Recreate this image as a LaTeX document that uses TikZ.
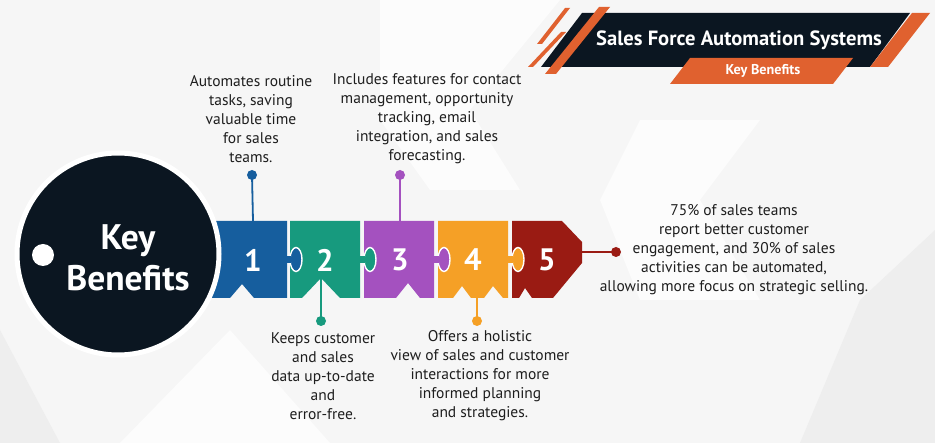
\documentclass[tikz,border=0pt]{standalone}
\usepackage{fontspec}
\setmainfont{PT Sans}
\definecolor{navy}{HTML}{0B1621}
\definecolor{pblue}{HTML}{165E9E}
\definecolor{pgreen}{HTML}{179A7E}
\definecolor{ppurple}{HTML}{A451BF}
\definecolor{porange}{HTML}{F5A026}
\definecolor{pred}{HTML}{9A1B13}
\definecolor{torange}{HTML}{E0612F}
\definecolor{txt}{HTML}{1E1E1E}
\definecolor{bgA}{HTML}{F6F6F6}
\definecolor{bgB}{HTML}{EEEEEE}
\definecolor{bgC}{HTML}{FCFCFC}
\tikzset{
  desc/.style={text=txt, align=center, inner sep=0pt, font=\fontsize{15.5}{19}\selectfont},
  numtxt/.style={text=white, inner sep=0pt, font=\fontsize{31}{31}\selectfont\bfseries},
  dotnode/.style={circle, fill=#1, minimum size=10pt, inner sep=0pt},
  conn/.style={draw=#1, line width=1.8pt},
  tab/.style={fill=#1, draw=white, line width=1.4pt},
}
\begin{document}
\begin{tikzpicture}[x=1pt,y=-1pt]
\useasboundingbox (0,0) rectangle (935,443);
% background
\fill[bgA] (0,0) rectangle (935,443);
\fill[bgC] (380,0) -- (560,0) -- (470,110) -- (520,190) -- (430,190) -- (380,120) -- cycle;
\fill[bgC] (640,120) -- (760,120) -- (700,200) -- (760,300) -- (640,300) -- (600,200) -- cycle;
\fill[bgB] (0,330) -- (60,443) -- (0,443) -- cycle;
\fill[bgB] (860,300) -- (935,230) -- (935,443) -- (800,443) -- cycle;
\fill[bgC] (120,443) -- (230,330) -- (330,443) -- cycle;

% ---------- title banner ----------
\fill[navy] (582,13) -- (910,13) -- (870,67) -- (541,67) -- cycle;
\fill[torange] (912,13) -- (930,13) -- (888,67) -- (870,67) -- cycle;
\fill[torange] (599,7) -- (610,7) -- (556,74) -- (545,74) -- cycle;
\fill[torange] (565,8) -- (570,8) -- (542,44) -- (537,44) -- cycle;
\fill[torange] (561,32) -- (566,32) -- (533,67) -- (528,67) -- cycle;
\fill[torange] (690,58) -- (853,58) -- (833,84) -- (670,84) -- cycle;
\node[text=white, font=\fontsize{20.6}{20.6}\selectfont\bfseries] (title) at (739,40) {Sales Force Automation Systems};
\node[text=white, font=\fontsize{14.2}{14.2}\selectfont\bfseries] (sub) at (763,71) {Key Benefits};

% ---------- puzzle pieces ----------
\fill[pblue] (205,221) -- (287,221) -- (287,298) -- (254,298) -- (242,284) -- (230,298) -- (205,298) -- cycle;
\fill[pgreen] (290,221) -- (360,221) -- (360,298) -- (340,298) -- (321,278) -- (302,298) -- (290,298) -- cycle;
\fill[ppurple] (364,221) -- (434,221) -- (434,298) -- (420,298) -- (408,283) -- (396,298) -- (364,298) -- cycle;
\fill[porange] (438,221) -- (508,221) -- (508,298) -- (503,298) -- (493,286) -- (484,298) -- (471,298) -- (462,286) -- (453,298) -- (438,298) -- cycle;
\fill[pred] (512,221) -- (562,221) -- (582,242) -- (582,263) -- (553,298) -- (532,298) -- (525,288) -- (519,298) -- (512,298) -- cycle;

% tabs
\foreach \R/\L/\c in {287/290/pblue, 360/364/pgreen, 434/438/ppurple, 508/512/porange}{
  \draw[tab=\c] (\L+6,259.5) ellipse [x radius=6, y radius=12];
  \fill[\c] (\R-1,256) rectangle (\L+1,263);
}

% circle
\draw[fill=navy, draw=white, line width=5pt] (118,254) circle [radius=101];
\fill[white] (43,255) circle [radius=11];
\node[text=white, align=center, font=\fontsize{35.5}{41}\selectfont\bfseries] (kb) at (128,258) {Key\\Benefits};

% numbers
\node[numtxt] (n1) at (253,260) {1};
\node[numtxt] (n2) at (325,260) {2};
\node[numtxt] (n3) at (400,260) {3};
\node[numtxt] (n4) at (473,260) {4};
\node[numtxt] (n5) at (547,260) {5};

% connector anchors
\coordinate (a1) at (253,221);
\coordinate (a2) at (321,278);
\coordinate (a3) at (400,221);
\coordinate (a4) at (477,298);
\coordinate (a5) at (582,252);

% dots
\node[dotnode=pblue] (d1) at (252,175) {};
\node[dotnode=pgreen] (d2) at (321,321) {};
\node[dotnode=ppurple] (d3) at (400,175) {};
\node[dotnode=porange] (d4) at (477,321) {};
\node[dotnode=pred] (d5) at (616,252) {};

\draw[conn=pblue] (a1) -- (d1.center);
\draw[conn=pgreen] (a2) -- (d2.center);
\draw[conn=ppurple] (a3) -- (d3.center);
\draw[conn=porange] (a4) -- (d4.center);
\draw[conn=pred] (a5) -- (d5.center);

% texts
\node[desc] (t1) at (251,119) {Automates routine\\tasks, saving\\valuable time\\for sales\\teams.};
\node[desc] (t3) at (427,119) {Includes features for contact\\management, opportunity\\tracking, email\\integration, and sales\\forecasting.};
\node[desc] (t2) at (323,376) {Keeps customer\\and sales\\data up-to-date\\and\\error-free.};
\node[desc] (t4) at (480,376) {Offers a holistic\\view of sales and customer\\interactions for more\\informed planning\\and strategies.};
\node[desc] (t5) at (734,250) {75\% of sales teams\\report better customer\\engagement, and 30\% of sales\\activities can be automated,\\allowing more focus on strategic selling.};
\end{tikzpicture}
\end{document}
